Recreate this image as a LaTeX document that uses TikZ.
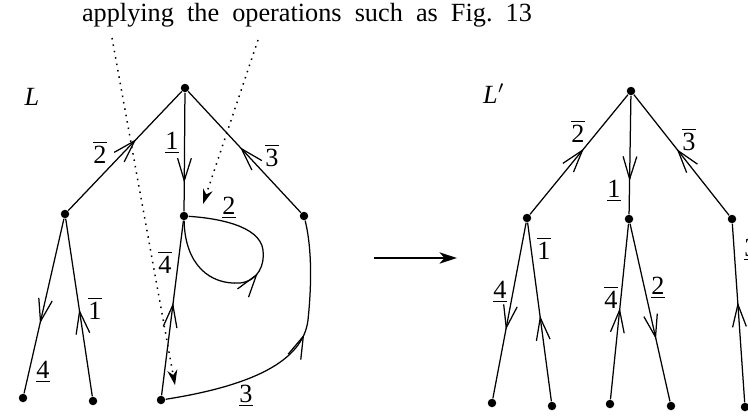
\documentclass[tikz,border=0pt]{standalone}
\usepackage{fontspec}
\setmainfont{Liberation Serif}
\usetikzlibrary{arrows.meta, decorations.markings}

\newcommand{\barnum}[1]{$\overline{\mbox{#1}}$}
\newcommand{\ulnum}[1]{\underline{#1}}

\begin{document}
\begin{tikzpicture}[x=0.4pt, y=-0.4pt,
    dot/.style  = {circle, fill, inner sep=0pt, minimum size=3.4pt},
    edge/.style = {line width=0.5pt},
    mid/.style  = {postaction={decorate, decoration={markings,
                   mark=at position #1 with {\arrow{Straight Barb[length=9pt,width=5.5pt]}}}}},
    lab/.style  = {inner sep=1pt, font=\fontsize{10.5}{12.5}\selectfont},
    hint/.style = {dotted, line width=0.6pt, -{Stealth[length=6pt,width=4pt]}},
    map/.style  = {line width=0.8pt, -{Stealth[length=7pt,width=4.5pt,inset=2pt]}},
  ]
    \useasboundingbox (0,0) rectangle (748,416);

    % ── Title and hint arrows ────────────────────────────────
    \node[lab] (title) at (307,15) {\spaceskip=0.5em applying the operations such as Fig.\ 13};
    \coordinate (h1) at (112,38);
    \coordinate (h2) at (258,40);

    % ── Tree L ───────────────────────────────────────────────
    \node[lab] (L) at (32,97) {\textit{L}};
    \node[dot] (r)  at (185,88) {};
    \node[dot] (a)  at (65,214) {};
    \node[dot] (b)  at (184,216) {};
    \node[dot] (c)  at (304,216) {};
    \node[dot] (a1) at (23,398) {};
    \node[dot] (a2) at (93,401) {};
    \node[dot] (b1) at (161,400) {};

    \draw[edge, mid=0.60] (a) -- (r);
    \draw[edge, mid=0.76] (r) -- (b);
    \draw[edge, mid=0.54] (c) -- (r);
    \draw[edge, mid=0.60] (a) -- (a1);
    \draw[edge, mid=0.49] (a2) -- (a);
    \draw[edge, mid=0.53] (b1) -- (b);
    \draw[edge, mid=0.51] (b) .. controls (185,265) and (210,285) .. (240,283)
                              .. controls (258,281) and (265,265) .. (263,250)
                              .. controls (260,225) and (215,218) .. (b);
    \draw[edge, mid=0.58] (b1) .. controls (250,386) and (303,362) .. (308,320)
                               .. controls (313,272) and (310,240) .. (c);

    \node[lab] at (100,152) {\barnum{2}};
    \node[lab] at (172,143) {\ulnum{1}};
    \node[lab] at (272,155) {\barnum{3}};
    \node[lab] at (229,208) {\ulnum{2}};
    \node[lab] at (165,262) {\barnum{4}};
    \node[lab] at (95,308)  {\barnum{1}};
    \node[lab] at (43,372)  {\ulnum{4}};
    \node[lab] at (246,396) {\ulnum{3}};

    \draw[hint] (h1) -- (175,385);
    \draw[hint] (h2) -- (203,204);

    % ── Map arrow ────────────────────────────────────────────
    \coordinate (m1) at (374,258);
    \coordinate (m2) at (457,258);
    \draw[map] (m1) -- (m2);

    % ── Tree L' ──────────────────────────────────────────────
    \node[lab] (Lp) at (494,94) {\textit{L}$'$};
    \node[dot] (rp)  at (631,91) {};
    \node[dot] (ap)  at (527,218) {};
    \node[dot] (bp)  at (629,219) {};
    \node[dot] (cp)  at (732,219) {};
    \node[dot] (ap1) at (492,403) {};
    \node[dot] (ap2) at (552,406) {};
    \node[dot] (bp1) at (610,404) {};
    \node[dot] (bp2) at (671,406) {};
    \node[dot] (cp1) at (745,407) {};

    \draw[edge, mid=0.55] (ap) -- (rp);
    \draw[edge, mid=0.72] (rp) -- (bp);
    \draw[edge, mid=0.55] (cp) -- (rp);
    \draw[edge, mid=0.61] (ap) -- (ap1);
    \draw[edge, mid=0.48] (ap2) -- (ap);
    \draw[edge, mid=0.52] (bp1) -- (bp);
    \draw[edge, mid=0.65] (bp) -- (bp2);
    \draw[edge, mid=0.56] (cp1) -- (cp);

    \node[lab] at (578,131) {\barnum{2}};
    \node[lab] at (614,191) {\ulnum{1}};
    \node[lab] at (689,139) {\barnum{3}};
    \node[lab] at (544,248) {\barnum{1}};
    \node[lab] at (500,292) {\ulnum{4}};
    \node[lab] at (611,297) {\barnum{4}};
    \node[lab] at (658,288) {\ulnum{2}};
    \node[lab] at (751,250) {\ulnum{3}};

  \end{tikzpicture}
\end{document}
